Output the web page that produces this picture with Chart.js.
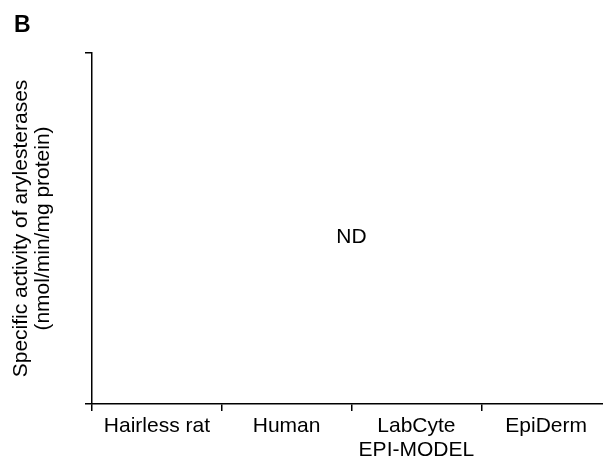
<!DOCTYPE html>
<html>
<head>
<meta charset="utf-8">
<script src="https://cdn.jsdelivr.net/npm/chart.js@4/dist/chart.umd.min.js"></script>
<style>
  html, body { margin: 0; padding: 0; background: #fff; }
  #wrap { position: relative; width: 603px; height: 460px; overflow: hidden; }
  #panel { position: absolute; left: 14px; top: 13px; font: bold 23px "Liberation Sans", Arial, sans-serif; line-height: 23px; color: #000; }
  canvas { position: absolute; left: 0; top: 0; }
</style>
</head>
<body>
<div id="wrap">
  <canvas id="chart" width="620" height="460"></canvas>
  <div id="panel">B</div>
</div>
<script>
// arylesterase activity, nothing detected in any of the models
const categories = ['Hairless rat', 'Human', ['LabCyte', 'EPI-MODEL'], 'EpiDerm'];
const activity = [null, null, null, null];
const yRange = [0, 1];
const ndLabel = 'ND';
const ndPos = { x: 1.5, y: 0.475 };

const FONT = '"Liberation Sans", Arial, sans-serif';

// writes "ND" in the plot using the chart's own scales
const ndPlugin = {
    id: 'ndText',
    afterDatasetsDraw(chart) {
        const ctx = chart.ctx;
        const x = chart.scales.x.getPixelForValue(ndPos.x);
        const y = chart.scales.y.getPixelForValue(ndPos.y);
        ctx.save();
        ctx.font = '21px ' + FONT;
        ctx.fillStyle = '#000';
        ctx.textAlign = 'center';
        ctx.textBaseline = 'middle';
        ctx.fillText(ndLabel, x, y);
        ctx.restore();
    }
};

const ctx = document.getElementById('chart').getContext('2d');
const chart = new Chart(ctx, {
    type: 'bar',
    data: {
        labels: categories,
        datasets: [{
            label: 'Specific activity',
            data: activity,
            backgroundColor: '#000'
        }]
    },
    options: {
        responsive: false,
        animation: false,
        devicePixelRatio: 1,
        layout: { padding: { left: 0, top: 53, right: 9, bottom: 0 } },
        plugins: {
            legend: { display: false },
            tooltip: { enabled: false }
        },
        scales: {
            x: {
                type: 'category',
                offset: true,
                afterFit(scale) { scale.height = 56; },
                grid: {
                    offset: true,
                    drawOnChartArea: false,
                    tickLength: 7,
                    color: '#000',
                    lineWidth: 1.5
                },
                border: { color: '#000', width: 1.5 },
                ticks: {
                    color: '#000',
                    padding: 3,
                    maxRotation: 0,
                    autoSkip: false,
                    font: { family: FONT, size: 21, lineHeight: 1.15 }
                }
            },
            y: {
                min: yRange[0],
                max: yRange[1],
                afterFit(scale) { scale.width = 92; },
                grid: {
                    drawOnChartArea: false,
                    tickLength: 7,
                    color: '#000',
                    lineWidth: 1.5
                },
                border: { color: '#000', width: 1.5 },
                ticks: { display: false, stepSize: 1 },
                title: {
                    display: true,
                    text: ['Specific activity of arylesterases', '(nmol/min/mg protein)'],
                    color: '#000',
                    padding: { top: 10, bottom: 0 },
                    font: { family: FONT, size: 21, lineHeight: '22px' }
                }
            }
        }
    },
    plugins: [ndPlugin]
});
</script>
</body>
</html>
